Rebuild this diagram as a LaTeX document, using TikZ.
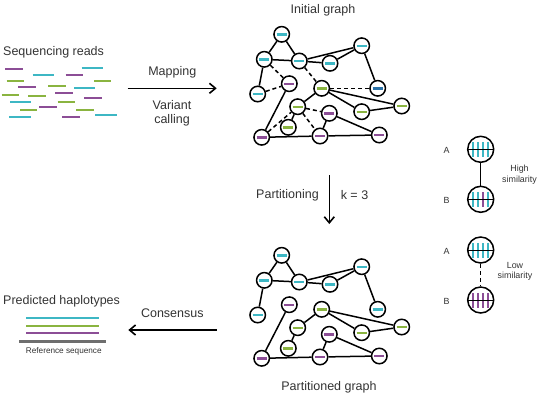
\documentclass[tikz,border=0pt]{standalone}
\usepackage{fontspec}
\setmainfont{Liberation Sans}
\usetikzlibrary{arrows.meta}
\definecolor{cy}{HTML}{3DB7C4}
\definecolor{gr}{HTML}{8AB440}
\definecolor{pu}{HTML}{8C4E96}
\definecolor{db}{HTML}{2A72A8}
\definecolor{tx}{HTML}{333333}
\definecolor{rf}{HTML}{6E6E6E}
\tikzset{
 gn/.style={circle,draw=black,fill=white,line width=1.5pt,minimum size=15.5pt,inner sep=0pt,
   path picture={\draw[#1,line width=2.4pt] ([xshift=-5pt]path picture bounding box.center) -- ([xshift=5pt]path picture bounding box.center);}},
 ed/.style={line width=1.5pt},
 dsh/.style={line width=1.5pt,dash pattern=on 4pt off 3pt},
 lbl/.style={text=tx,font=\fontsize{12.5}{14.5}\selectfont,inner sep=0pt,align=center},
 sml/.style={text=tx,font=\fontsize{8.9}{10.7}\selectfont,inner sep=0pt,align=center},
 arr/.style={line width=1.6pt,-{Straight Barb[length=6pt,width=10pt]}},
 rd/.style={line width=2.3pt},
 bar/.style={line width=2pt},
 sim/.style n args={4}{circle,draw=black,fill=white,line width=1.5pt,minimum size=26pt,inner sep=0pt,
   path picture={
     \draw[bar,#1] ([xshift=-7.5pt,yshift=-7.5pt]path picture bounding box.center) -- ([xshift=-7.5pt,yshift=7.5pt]path picture bounding box.center);
     \draw[bar,#2] ([xshift=-2.5pt,yshift=-7.5pt]path picture bounding box.center) -- ([xshift=-2.5pt,yshift=7.5pt]path picture bounding box.center);
     \draw[bar,#3] ([xshift=2.5pt,yshift=-7.5pt]path picture bounding box.center) -- ([xshift=2.5pt,yshift=7.5pt]path picture bounding box.center);
     \draw[bar,#4] ([xshift=7.5pt,yshift=-7.5pt]path picture bounding box.center) -- ([xshift=7.5pt,yshift=7.5pt]path picture bounding box.center);
     \draw[line width=1pt] ([xshift=-14pt]path picture bounding box.center) -- ([xshift=14pt]path picture bounding box.center);
   }},
}
\newcommand\mygraph[2]{%
\node[gn=cy] (#1a) at (281.7,34.3) {};
\node[gn=cy] (#1b) at (264.3,59.3) {};
\node[gn=cy] (#1c) at (299.3,61) {};
\node[gn=cy] (#1d) at (330,63.3) {};
\node[gn=cy] (#1e) at (361.7,45.7) {};
\node[gn=cy] (#1f) at (257.7,94) {};
\node[gn=pu] (#1g) at (289.3,83.7) {};
\node[gn=gr] (#1h) at (321.7,88.3) {};
\node[gn=#2] (#1i) at (377.7,88.3) {};
\node[gn=gr] (#1j) at (297.7,106.7) {};
\node[gn=pu] (#1k) at (329.3,113.3) {};
\node[gn=gr] (#1l) at (361.7,111.7) {};
\node[gn=gr] (#1m) at (401.7,106) {};
\node[gn=gr] (#1n) at (288.3,127.3) {};
\node[gn=pu] (#1o) at (261.7,137.3) {};
\node[gn=pu] (#1p) at (320,136) {};
\node[gn=pu] (#1q) at (379.3,135) {};
\foreach \u/\v in {a/b,a/c,b/c,c/d,c/e,d/e,e/i,b/f,h/j,h/l,h/m,l/m,j/n,g/o,o/p,p/q,k/q,k/p}
  \draw[ed] (#1\u) -- (#1\v);
}
\begin{document}
\begin{tikzpicture}[x=1pt,y=-1pt]
\useasboundingbox (0,0) rectangle (538,400);
% sequencing reads
\node[lbl,anchor=west] (seqlbl) at (3,52) {Sequencing reads};
\foreach \c/\a/\b/\y in {pu/5/22.7/69.3, cy/81.7/102.7/68, cy/32.7/54/75.3, pu/65.7/83.3/75.3,
  gr/6.7/24/81, gr/94/111/81, pu/18.3/36/86.7, gr/48.3/65.7/86, cy/74/95/87.7,
  pu/55/72.7/92.7, gr/1.7/19.3/95, gr/28.3/46/96, pu/84/101.7/97.7, cy/10/31/102.3,
  gr/57.7/75/102, pu/39.3/56.7/106.7, gr/20/37.3/110, gr/76/94/110, cy/9.3/30.7/116.7,
  pu/62.3/80/116.7, cy/95/116.7/115.3}
  \draw[rd,\c] (\a,\y) -- (\b,\y);
% mapping arrow
\coordinate (m1) at (127.7,88.3);
\coordinate (m2) at (216.7,88.3);
\draw[arr] (m1) -- (m2);
\node[lbl] (maplbl) at (172.3,72.5) {Mapping};
\node[lbl] (varlbl) at (172,113.5) {Variant\\calling};
% initial graph
\node[lbl] (inilbl) at (323,10) {Initial graph};
\mygraph{i}{db}
\foreach \u/\v in {b/g,c/h,f/g,h/i,j/k,j/p,o/j}
  \draw[dsh] (i\u) -- (i\v);
% partitioning arrow
\coordinate (p1) at (329.3,175);
\coordinate (p2) at (329.3,224);
\draw[arr] (p1) -- (p2);
\node[lbl] (partlbl) at (287.5,195) {Partitioning};
\node[lbl] (klbl) at (354.5,195) {k = 3};
% partitioned graph
\begin{scope}[shift={(0,221)}]
\mygraph{p}{cy}
\end{scope}
\node[lbl] (partglbl) at (329,387.5) {Partitioned graph};
% consensus arrow
\coordinate (c1) at (216.7,330);
\coordinate (c2) at (128.3,330);
\draw[arr] (c1) -- (c2);
\node[lbl] (conslbl) at (172.3,313.3) {Consensus};
% predicted haplotypes
\node[lbl,anchor=west] (predlbl) at (3,301.7) {Predicted haplotypes};
\draw[rd,cy] (26,317.7) -- (99,317.7);
\draw[rd,gr] (26,325.7) -- (99,325.7);
\draw[rd,pu] (26,333.3) -- (99,333.3);
\draw[line width=2.8pt,rf] (19.3,341.7) -- (106,341.7);
\node[sml,font=\fontsize{8.2}{10}\selectfont] (reflbl) at (63.8,351.7) {Reference sequence};
% similarity panel
\node[sim={cy}{cy}{cy}{cy}] (hA) at (480.7,149.3) {};
\node[sim={cy}{cy}{pu}{cy}] (hB) at (480.7,199.3) {};
\node[sim={cy}{cy}{cy}{cy}] (lA) at (480.7,250) {};
\node[sim={pu}{pu}{pu}{pu}] (lB) at (480.7,300) {};
\draw[ed] (hA) -- (hB);
\draw[dsh] (lA) -- (lB);
\node[sml] (hAl) at (446.7,150.5) {A};
\node[sml] (hBl) at (446.7,200.5) {B};
\node[sml] (lAl) at (446.7,251) {A};
\node[sml] (lBl) at (446.7,301) {B};
\node[sml] (highlbl) at (519.5,175) {High\\similarity};
\node[sml] (lowlbl) at (515,271.5) {Low\\similarity};
\end{tikzpicture}
\end{document}
